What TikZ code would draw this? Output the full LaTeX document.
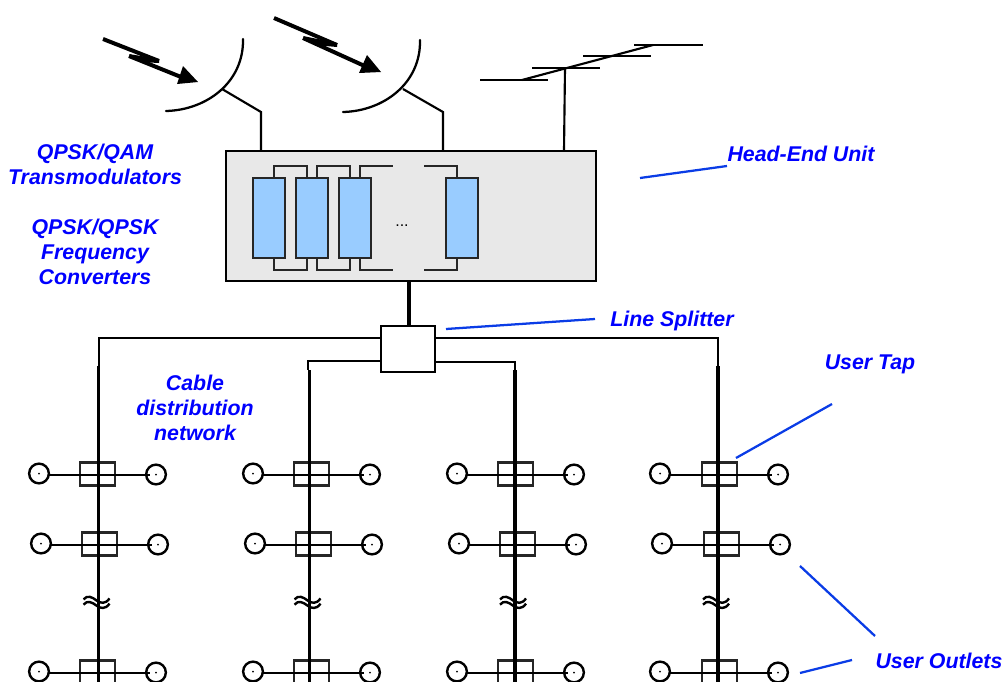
\documentclass[tikz,border=0pt]{standalone}
\usepackage{fontspec}
\setmainfont{Liberation Sans}
\definecolor{labelblue}{RGB}{0,0,255}
\definecolor{leaderblue}{RGB}{10,60,230}
\definecolor{unitgrey}{RGB}{232,232,232}
\definecolor{modblue}{RGB}{153,204,255}
\newcommand{\pxbox}[6]{\node[#6,minimum width={((#4)-(#2))*0.75pt},minimum height={((#5)-(#3))*0.75pt}] (#1) at ({((#2)+(#4))/2},{((#3)+(#5))/2}) {};}
\tikzset{
  x=0.75pt,y=-0.75pt,
  boxbase/.style={rectangle,inner sep=0pt,outer sep=0pt},
  headbox/.style={boxbase,draw=black,fill=unitgrey,line width=1.7pt},
  modbox/.style={boxbase,draw=black!85,fill=modblue,line width=1pt},
  splitbox/.style={boxbase,draw=black,fill=white,line width=1.8pt},
  tapbox/.style={boxbase,draw=black!85,line width=1.6pt},
  outlet/.style={circle,draw=black,fill=white,line width=1.8pt,inner sep=0pt,outer sep=0pt,minimum size=14.8pt},
  dish/.style={line width=1.7pt,line cap=round},
  feed/.style={line width=1.6pt},
  mod link/.style={line width=0.9pt,draw=black!85},
  trunk/.style={line width=2.4pt},
  branch/.style={line width=1.8pt},
  bolt/.style={line width=3pt},
  tiphead/.style={fill=black,draw=none},
  leader/.style={draw=leaderblue,line width=1.7pt},
  lbl/.style={text=labelblue,font=\fontsize{16}{18.7}\selectfont\bfseries\itshape,align=center,inner sep=0pt},
}
\begin{document}
\begin{tikzpicture}
\useasboundingbox (0,0) rectangle (1004,682);
\clip (0,0) rectangle (1004,682);

% head-end
\pxbox{head}{226}{151}{596}{281}{headbox}
\foreach \n/\a/\b in {m1/253/285,m2/296/328,m3/339/371,m4/446/478}{
  \pxbox{\n}{\a}{178}{\b}{258}{modbox}
}
\node[inner sep=0pt,font=\fontsize{12}{14}\selectfont] (dots) at (402,226) {...};

% module links
\foreach \a/\b/\xa/\xb in {m1/m2/274/307,m2/m3/317/350}{
  \draw[mod link] (\a.north -| \xa,0) -- (\xa,166) -- (\xb,166) -- (\b.north -| \xb,0);
  \draw[mod link] (\a.south -| \xa,0) -- (\xa,270) -- (\xb,270) -- (\b.south -| \xb,0);
}
\coordinate (openTL) at (393,166);
\coordinate (openBL) at (393,270);
\coordinate (openTR) at (424,166);
\coordinate (openBR) at (424,270);
\draw[mod link] (m3.north -| 360,0) -- (360,166) -- (openTL);
\draw[mod link] (m3.south -| 360,0) -- (360,270) -- (openBL);
\draw[mod link] (openTR) -- (457,166) -- (m4.north -| 457,0);
\draw[mod link] (openBR) -- (457,270) -- (m4.south -| 457,0);

% dishes
\coordinate (d1a) at (166,111);
\coordinate (d1b) at (243,39);
\coordinate (d1s) at (222,89);
\coordinate (d2a) at (343,112);
\coordinate (d2b) at (420,40);
\coordinate (d2s) at (403,89);
\draw[dish] (d1a) .. controls (207,110) and (244,82) .. (d1b);
\draw[dish] (d2a) .. controls (384,111) and (421,83) .. (d2b);
\draw[feed] (d1s) -- (261,112) -- (head.north -| 261,0);
\draw[feed] (d2s) -- (443,112) -- (head.north -| 443,0);

% signal bolts
\draw[bolt] (103,39) -- (159,61);
\draw[bolt] (129,56) -- (186,79);
\fill[tiphead] (129,54) -- (159,59) -- (159,63) -- (140,62) -- cycle;
\fill[tiphead] (198,82) -- (183,66) -- (177,84) -- cycle;
\draw[bolt] (274,18) -- (337,45);
\draw[bolt] (303,38) -- (369,68);
\fill[tiphead] (303,36) -- (337,43) -- (337,47) -- (315,45) -- cycle;
\fill[tiphead] (381,72) -- (367,55) -- (359,73) -- cycle;

% TV aerial
\draw[line width=2.2pt] (480,80) -- (548,80);
\draw[line width=2.2pt] (532,68) -- (600,68);
\draw[line width=2.2pt] (583,56) -- (651,56);
\draw[line width=2.2pt] (634,45) -- (703,45);
\draw[line width=1.6pt] (522,80) -- (653,45);
\coordinate (mastTop) at (565,68);
\draw[line width=1.6pt] (mastTop) -- (head.north -| 564,0);

% splitter and trunks
\draw[line width=2.4pt] (head.south -| 409,0) -- (409,326);
\pxbox{split}{381}{326}{435}{372}{splitbox}
\coordinate (t1) at (99,338);
\coordinate (t2) at (308,361);
\coordinate (t3) at (515,362);
\coordinate (t4) at (718,338);
\draw[branch] (split.west |- t1) -- (t1) -- (99,366);
\draw[branch] (split.east |- t4) -- (t4) -- (718,366);
\draw[branch] (split.west |- t2) -- (t2) -- (308,370);
\draw[branch] (split.east |- t3) -- (t3) -- (515,370);

% columns
\foreach \c/\X/\ys/\bx/\Lx/\Rx in {1/98.5/366/80/39/156,2/309.5/370/294/253/370,3/515/370/498/457/574,4/718/366/702/660/778}{
  \foreach \r/\y/\o/\lw in {1/474/0/2pt,2/544/2/1.6pt,3/672/0/2pt}{
    \pxbox{tap\c\r}{\bx+\o}{\y-11.5}{\bx+\o+35}{\y+11.5}{tapbox}
    \node[outlet] (ol\c\r) at (\Lx+\o,\y-0.5) {};
    \node[outlet] (or\c\r) at (\Rx+\o,\y+0.5) {};
    \fill (ol\c\r.center) circle (1);
    \fill (or\c\r.center) circle (1);
    \coordinate (ln\c\r) at (0,\y+1);
    \draw[line width=\lw] (ol\c\r.east |- ln\c\r) -- ([xshift=3pt]or\c\r.west |- ln\c\r);
  }
  \coordinate (bot\c) at (\X,682);
  \draw[trunk] (\X,\ys) -- (bot\c);
  \foreach \dy in {-2.6,2.6}{
    \draw[line width=1.8pt,shift={(\X-2,603+\dy)}] (-13,-1) .. controls (-9,-6) and (-4,-3) .. (0,0) .. controls (4,3) and (9,4) .. (13,-2);
  }
}

% labels
\node[lbl] (lqam) at (95,164) {QPSK/QAM\\Transmodulators};
\node[lbl] (lfc) at (95,252) {QPSK/QPSK\\Frequency\\Converters};
\node[lbl] (lhead) at (801,154) {Head-End Unit};
\node[lbl] (lsplit) at (672,321) {Line Splitter};
\node[lbl] (ltap) at (870,364) {User Tap};
\node[lbl] (lcable) at (195,407.5) {Cable\\distribution\\network};
\node[lbl] (lout) at (939,661) {User Outlets};

% leaders
\coordinate (e1) at (640,178);
\coordinate (e2) at (727,166);
\draw[leader] (e1) -- (e2);
\coordinate (e3) at (446,329);
\coordinate (e4) at (595,319);
\draw[leader] (e3) -- (e4);
\coordinate (e5) at (736,458);
\coordinate (e6) at (832,404);
\draw[leader] (e5) -- (e6);
\coordinate (e7) at (800,566);
\coordinate (e8) at (875,636);
\draw[leader] (e7) -- (e8);
\coordinate (e9) at (800,673);
\coordinate (e10) at (852,660);
\draw[leader] (e9) -- (e10);
\end{tikzpicture}
\end{document}
